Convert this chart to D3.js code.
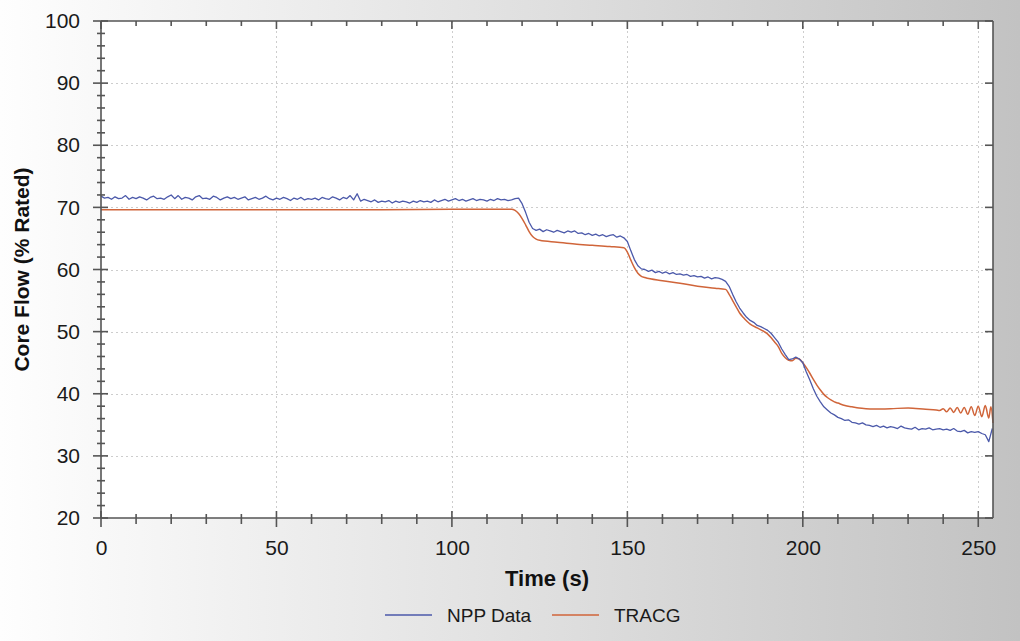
<!DOCTYPE html>
<html>
<head>
<meta charset="utf-8">
<script src="https://cdn.jsdelivr.net/npm/d3@7"></script>
<style>
  html, body { margin: 0; padding: 0; }
  body { width: 1020px; height: 641px; overflow: hidden; }
  svg { display: block; font-family: "Liberation Sans", Arial, sans-serif; }
</style>
</head>
<body>
<svg id="chart" width="1020" height="641"></svg>
<script>
// ---- data -------------------------------------------------------------
// Measured plant core flow, sampled once per second from t = 0 s
const nppStart = 0;
const nppStep = 1;
const nppFlow = [
  71.8, 71.5, 71.6, 71.3, 71.7, 71.4, 71.5, 71.9, 71.3, 71.6,
  71.4, 71.7, 71.5, 71.2, 71.6, 71.8, 71.4, 71.5, 71.3, 71.7,
  72.0, 71.4, 71.9, 71.3, 71.6, 71.5, 71.2, 71.7, 71.9, 71.4,
  71.5, 71.3, 71.8, 71.6, 71.2, 71.5, 71.7, 71.4, 71.6, 71.3,
  71.5, 71.7, 71.2, 71.4, 71.6, 71.3, 71.5, 71.8, 71.4, 71.2,
  71.5, 71.3, 71.6, 71.4, 71.1, 71.5, 71.3, 71.6, 71.2, 71.4,
  71.3, 71.5, 71.2, 71.6, 71.4, 71.3, 71.7, 71.5, 71.2, 71.6,
  71.4, 71.9, 71.2, 72.2, 71.0, 71.3, 71.1, 70.9, 71.2, 70.8,
  71.0, 70.9, 71.1, 70.7, 71.0, 70.8, 71.0, 70.9, 70.7, 71.0,
  70.8, 71.1, 70.9, 71.0, 70.8, 71.2, 70.9, 71.1, 71.3, 71.0,
  71.2, 71.4, 71.1, 71.3, 71.0, 71.2, 71.4, 71.1, 71.3, 71.2,
  71.0, 71.3, 71.1, 71.4, 71.2, 71.3, 71.1, 71.2, 71.4, 71.5,
  70.6, 69.2, 67.6, 66.6, 66.3, 66.5, 66.1, 66.4, 66.2, 66.0,
  66.3, 66.1, 65.9, 66.2, 66.0, 66.2, 65.8, 65.9, 65.6, 65.8,
  65.5, 65.7, 65.4, 65.6, 65.3, 65.5, 65.6, 65.2, 65.4, 65.1,
  64.5, 63.0, 61.6, 60.6, 60.1, 60.0, 59.7, 59.9, 59.5, 59.7,
  59.4, 59.6, 59.3, 59.5, 59.2, 59.3, 59.1, 59.2, 58.9, 59.0,
  58.8, 58.9, 58.6, 58.8, 58.5, 58.7, 58.6, 58.4, 58.1, 57.3,
  56.0, 54.8, 53.8, 53.0, 52.3, 51.8, 51.5, 51.0, 50.8, 50.5,
  50.2, 49.7, 49.0, 48.3, 47.2, 46.3, 45.5, 45.6, 45.9, 45.6,
  45.0, 43.5, 42.2, 40.8, 39.6, 38.7, 37.9, 37.4, 36.9, 36.6,
  36.2, 36.0, 35.7, 35.8, 35.4, 35.3, 35.1, 35.3, 35.0, 34.9,
  34.7, 34.9, 34.6, 34.8, 34.5, 34.7, 34.6, 34.4, 34.8, 34.5,
  34.4, 34.3, 34.6, 34.2, 34.4, 34.3, 34.5, 34.2, 34.3, 34.4,
  34.2, 34.3, 34.1, 34.4, 34.0, 33.9, 34.1, 33.7, 33.9, 33.8,
  33.9, 33.6, 33.4, 32.3, 34.4
];

// TRACG prediction (time in s, core flow in % rated)
const tracgTime = [
  0, 20, 40, 60, 80, 100, 117, 118, 119, 120, 121, 122, 123, 124, 125,
  130, 135, 140, 145, 149, 150, 151, 152, 153, 154, 155, 160, 165, 170,
  175, 178, 179, 180, 181, 182, 183, 184, 185, 187, 189, 190, 191, 192,
  193, 194, 195, 196, 197, 198, 199, 200, 201, 202, 203, 204, 205, 206,
  207, 208, 209, 210, 212, 214, 216, 218, 220, 225, 230, 235, 238, 239,
  240, 241, 242, 243, 244, 245, 246, 247, 248, 249, 250, 251, 252, 253,
  253.6, 254.2
];
const tracgFlow = [
  69.6, 69.6, 69.6, 69.6, 69.6, 69.7, 69.7, 69.5, 69.0, 68.2, 67.2, 66.1, 65.3, 64.9, 64.7,
  64.4, 64.1, 63.9, 63.7, 63.5, 62.8, 61.5, 60.3, 59.4, 58.9, 58.7, 58.2, 57.8, 57.3,
  57.0, 56.8, 56.0, 55.0, 54.0, 53.0, 52.3, 51.7, 51.2, 50.6, 50.0, 49.6, 49.0, 48.3,
  47.6, 46.5, 45.8, 45.4, 45.3, 45.7, 45.6, 45.0, 44.2, 43.3, 42.3, 41.4, 40.6, 39.9,
  39.4, 39.0, 38.7, 38.5, 38.1, 37.9, 37.7, 37.6, 37.55, 37.6, 37.7, 37.5, 37.4, 37.3,
  37.6, 37.1, 37.7, 37.0, 37.8, 36.9, 37.8, 36.7, 37.9, 36.5, 38.0, 36.3, 38.1, 36.1,
  37.9, 35.3
];

const xTicks = [0, 50, 100, 150, 200, 250];
const yTicks = [20, 30, 40, 50, 60, 70, 80, 90, 100];
const seriesNames = ["NPP Data", "TRACG"];

// ---- layout -----------------------------------------------------------
const W = 1020, H = 641;
const plot = { left: 101, right: 993, top: 21, bottom: 518 };
const colNpp = "#4b59aa";
const colTracg = "#d0653a";
const axisCol = "#555555";

const svg = d3.select("#chart");

// page background: light on the left fading to grey on the right
const defs = svg.append("defs");
const grad = defs.append("linearGradient").attr("id", "bg")
  .attr("x1", "0%").attr("x2", "100%").attr("y1", "0%").attr("y2", "0%");
grad.append("stop").attr("offset", "0%").attr("stop-color", "#fefefe");
grad.append("stop").attr("offset", "55%").attr("stop-color", "#dedede");
grad.append("stop").attr("offset", "100%").attr("stop-color", "#c2c2c2");
svg.append("rect").attr("width", W).attr("height", H).attr("fill", "url(#bg)");

svg.append("rect")
  .attr("x", plot.left).attr("y", plot.top)
  .attr("width", plot.right - plot.left).attr("height", plot.bottom - plot.top)
  .attr("fill", "#ffffff");

const x = d3.scaleLinear().domain([0, 254.2]).range([plot.left, plot.right]);
const y = d3.scaleLinear().domain([20, 100]).range([plot.bottom, plot.top]);

// ---- grid -------------------------------------------------------------
const grid = svg.append("g").attr("stroke", "#cdcdcd").attr("stroke-width", 1)
  .attr("stroke-dasharray", "2,3");
grid.selectAll("line.h").data(yTicks.filter(v => v > 20 && v < 100)).join("line")
  .attr("class", "h")
  .attr("x1", plot.left).attr("x2", plot.right)
  .attr("y1", d => Math.round(y(d)) + 0.5).attr("y2", d => Math.round(y(d)) + 0.5);
grid.selectAll("line.v").data(xTicks.filter(v => v > 0)).join("line")
  .attr("class", "v")
  .attr("y1", plot.top).attr("y2", plot.bottom)
  .attr("x1", d => Math.round(x(d)) + 0.5).attr("x2", d => Math.round(x(d)) + 0.5);

// ---- series -----------------------------------------------------------
const nppPts = nppFlow.map((v, i) => [nppStart + i * nppStep, v]);
const tracgPts = tracgTime.map((t, i) => [t, tracgFlow[i]]);
const line = d3.line().x(d => x(d[0])).y(d => y(d[1]));
const smoothLine = d3.line().curve(d3.curveMonotoneX).x(d => x(d[0])).y(d => y(d[1]));

svg.append("path").datum(tracgPts).attr("d", smoothLine)
  .attr("fill", "none").attr("stroke", colTracg).attr("stroke-width", 1.5)
  .attr("stroke-linejoin", "round");
svg.append("path").datum(nppPts).attr("d", line)
  .attr("fill", "none").attr("stroke", colNpp).attr("stroke-width", 1.3)
  .attr("stroke-linejoin", "round");

// ---- axes -------------------------------------------------------------
const minorX = d3.range(0, 255, 10);
const minorY = d3.range(20, 101, 2);

// bottom axis: labels below the frame
const bottom = d3.axisBottom(x).tickValues(xTicks).tickSize(0).tickPadding(22);
const gB = svg.append("g").attr("transform", `translate(0,${plot.bottom})`).call(bottom);
gB.select(".domain").remove();
gB.selectAll("text").attr("font-size", 21).attr("fill", "#1a1a1a")
  .attr("font-family", "Liberation Sans, Arial, sans-serif");

// left axis: labels to the left
const left = d3.axisLeft(y).tickValues(yTicks).tickSize(0).tickPadding(21);
const gL = svg.append("g").attr("transform", `translate(${plot.left},0)`).call(left);
gL.select(".domain").remove();
gL.selectAll("text").attr("font-size", 21).attr("fill", "#1a1a1a")
  .attr("font-family", "Liberation Sans, Arial, sans-serif");

const ax = svg.append("g").attr("stroke", axisCol).attr("stroke-width", 1.6);
// frame lines
ax.append("line").attr("x1", plot.left).attr("x2", plot.right).attr("y1", plot.bottom).attr("y2", plot.bottom);
ax.append("line").attr("x1", plot.left).attr("x2", plot.right).attr("y1", plot.top).attr("y2", plot.top);
ax.append("line").attr("x1", plot.left).attr("x2", plot.left).attr("y1", plot.top).attr("y2", plot.bottom);
ax.append("line").attr("x1", plot.right).attr("x2", plot.right).attr("y1", plot.top).attr("y2", plot.bottom);

// bottom tick marks
ax.selectAll("line.bx").data(minorX).join("line").attr("class", "bx")
  .attr("x1", d => x(d)).attr("x2", d => x(d))
  .attr("y1", d => plot.bottom - (d % 50 === 0 ? 7 : 4))
  .attr("y2", d => plot.bottom + (d % 50 === 0 ? 9 : 6));
// top tick marks (inward)
ax.selectAll("line.tx").data(minorX).join("line").attr("class", "tx")
  .attr("x1", d => x(d)).attr("x2", d => x(d))
  .attr("y1", plot.top).attr("y2", d => plot.top + (d % 50 === 0 ? 8 : 5));
// left tick marks
ax.selectAll("line.ly").data(minorY).join("line").attr("class", "ly")
  .attr("y1", d => y(d)).attr("y2", d => y(d))
  .attr("x1", d => plot.left - (d % 10 === 0 ? 8 : 4))
  .attr("x2", d => plot.left + (d % 10 === 0 ? 7 : 4));
// right tick marks (inward, majors only)
ax.selectAll("line.ry").data(yTicks).join("line").attr("class", "ry")
  .attr("y1", d => y(d)).attr("y2", d => y(d))
  .attr("x1", plot.right - 8).attr("x2", plot.right);

// ---- titles -----------------------------------------------------------
svg.append("text")
  .attr("x", (plot.left + plot.right) / 2).attr("y", 586)
  .attr("text-anchor", "middle").attr("font-size", 22).attr("font-weight", "bold")
  .attr("fill", "#111").text("Time (s)");

svg.append("text")
  .attr("transform", `translate(29,${(plot.top + plot.bottom) / 2}) rotate(-90)`)
  .attr("text-anchor", "middle").attr("font-size", 21).attr("font-weight", "bold")
  .attr("fill", "#111").text("Core Flow (% Rated)");

// ---- legend -----------------------------------------------------------
const legendItems = [
  { name: seriesNames[0], color: colNpp, x0: 385 },
  { name: seriesNames[1], color: colTracg, x0: 552 }
];
const lg = svg.append("g");
legendItems.forEach(it => {
  lg.append("line").attr("x1", it.x0).attr("x2", it.x0 + 47)
    .attr("y1", 615).attr("y2", 615)
    .attr("stroke", it.color).attr("stroke-width", 1.5);
  lg.append("text").attr("x", it.x0 + 62).attr("y", 622)
    .attr("font-size", 19).attr("fill", "#1a1a1a").text(it.name);
});
</script>
</body>
</html>
